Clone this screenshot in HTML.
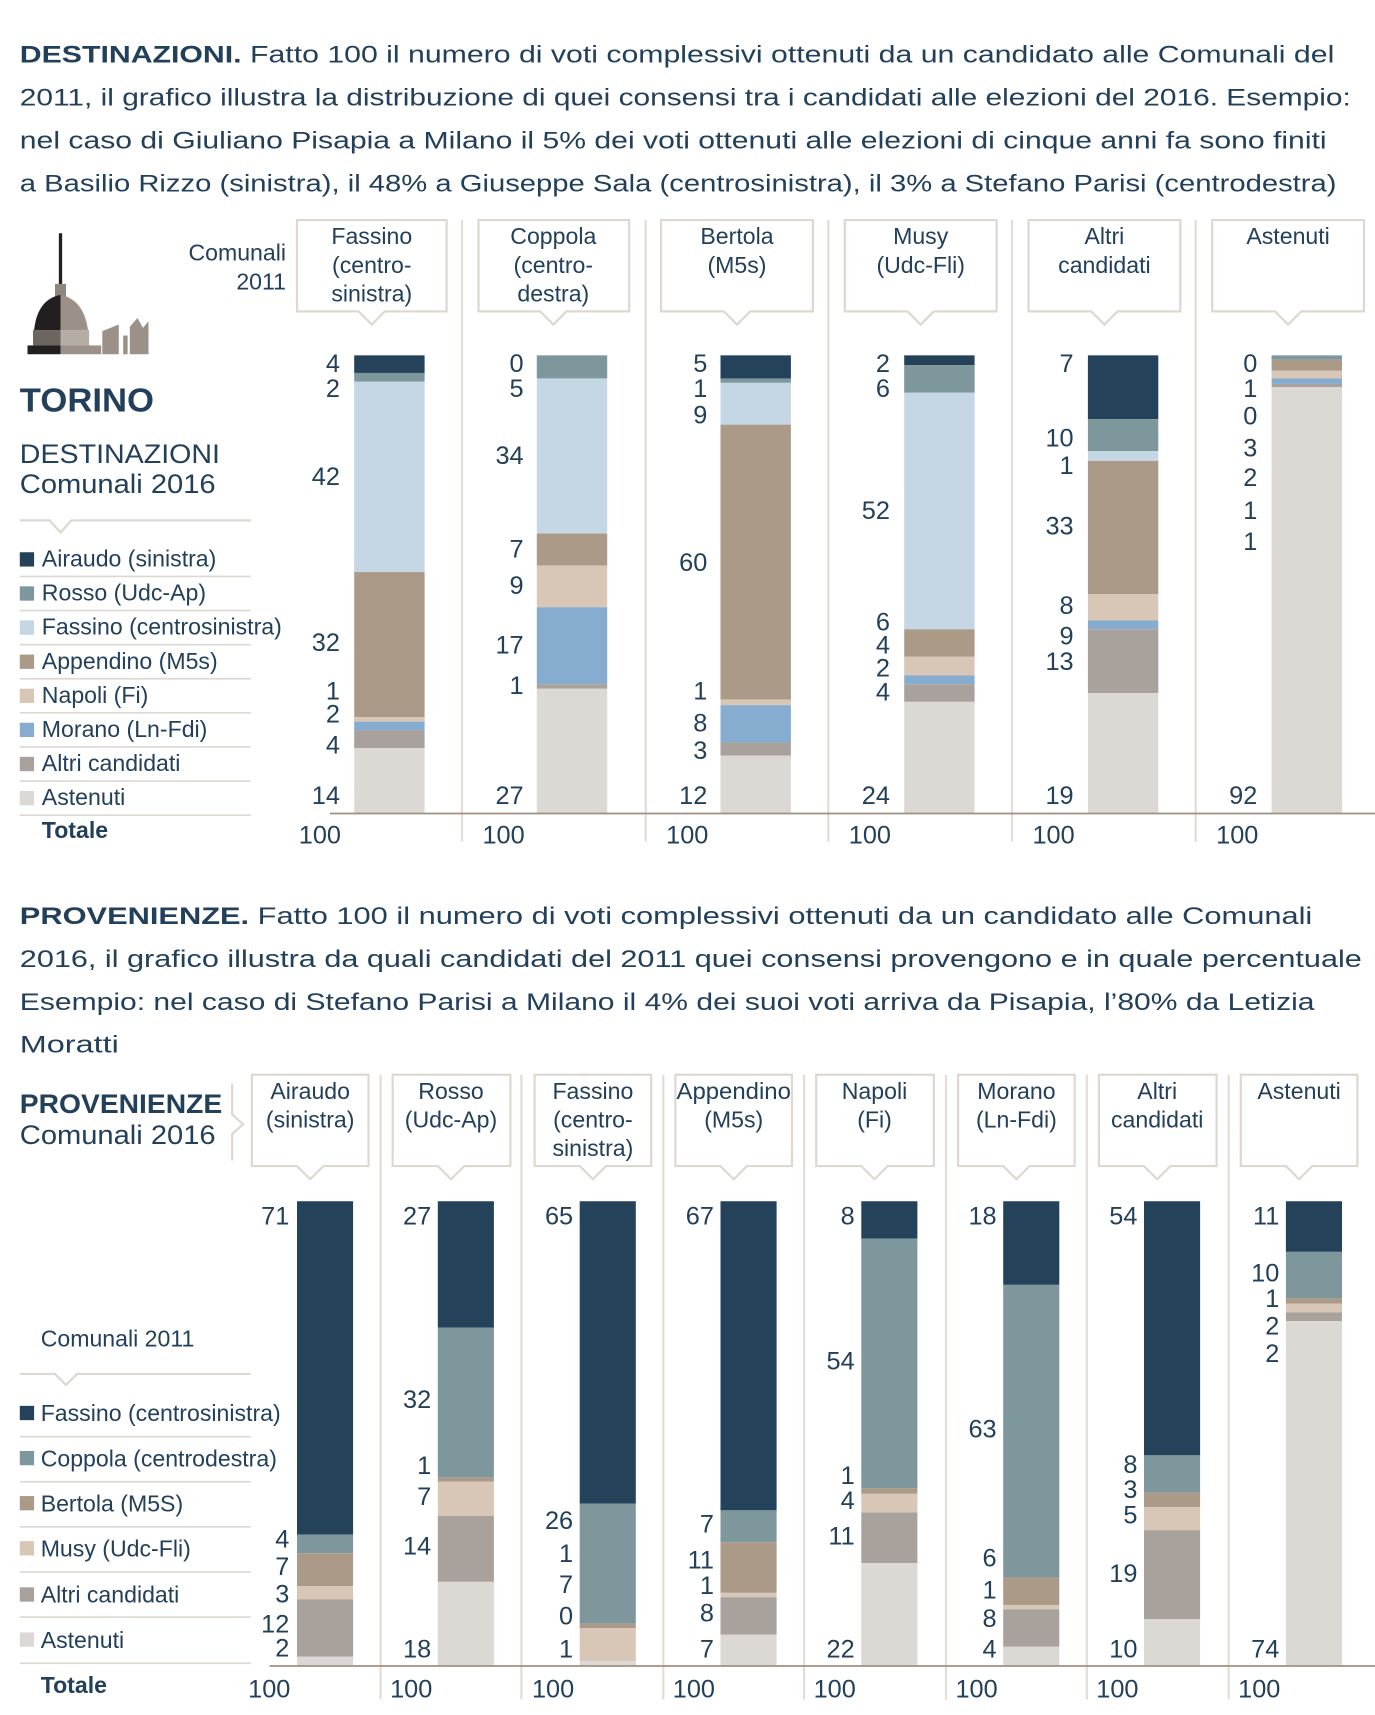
<!DOCTYPE html>
<html><head><meta charset="utf-8"><style>
html,body{margin:0;padding:0;background:#fff;}
svg{display:block;}
text{font-family:"Liberation Sans",sans-serif;fill:#23405a;}
.p{font-size:22px;}
.h{font-size:21px;text-anchor:middle;}
.v{font-size:23px;text-anchor:end;}
.l{font-size:21px;}
.bx{fill:#fff;stroke:#ddd8d0;stroke-width:2;}
.sep{stroke:#e2ddd7;stroke-width:2;}
</style></head><body>
<svg width="1375" height="1715" viewBox="0 0 1250 1559" xmlns="http://www.w3.org/2000/svg">
<text class="p" x="18" y="57" textLength="1195" lengthAdjust="spacingAndGlyphs"><tspan font-weight="bold">DESTINAZIONI.</tspan> Fatto 100 il numero di voti complessivi ottenuti da un candidato alle Comunali del</text>
<text class="p" x="18" y="96" textLength="1210" lengthAdjust="spacingAndGlyphs">2011, il grafico illustra la distribuzione di quei consensi tra i candidati alle elezioni del 2016. Esempio:</text>
<text class="p" x="18" y="135" textLength="1188" lengthAdjust="spacingAndGlyphs">nel caso di Giuliano Pisapia a Milano il 5% dei voti ottenuti alle elezioni di cinque anni fa sono finiti</text>
<text class="p" x="18" y="174" textLength="1197" lengthAdjust="spacingAndGlyphs">a Basilio Rizzo (sinistra), il 48% a Giuseppe Sala (centrosinistra), il 3% a Stefano Parisi (centrodestra)</text>

<g>
<rect x="53.5" y="212" width="3" height="50" fill="#231f20"/>
<rect x="50" y="258" width="10" height="12" fill="#8f877f"/>
<path d="M31 300 Q34 272 55 268 L55 300 Z" fill="#231f20"/>
<path d="M55 268 Q76 272 80 300 L55 300 Z" fill="#9b9189"/>
<rect x="30" y="300" width="25" height="14" fill="#6d655f"/>
<rect x="55" y="300" width="26" height="14" fill="#b5aca4"/>
<rect x="25" y="314" width="30" height="8" fill="#231f20"/>
<rect x="55" y="314" width="37" height="8" fill="#9b9189"/>
<path d="M93 322 V301 L108 295 V322 Z" fill="#9b9189"/>
<rect x="112" y="305" width="4" height="17" fill="#9b9189"/>
<path d="M118 322 V297 L125 289 L130 298 L135 292 V322 Z" fill="#9b9189"/>
</g>

<text x="260" y="237" font-size="21" text-anchor="end">Comunali</text>
<text x="260" y="263" font-size="21" text-anchor="end">2011</text>
<text x="18" y="374" font-size="30" font-weight="bold" textLength="122" lengthAdjust="spacingAndGlyphs">TORINO</text>
<text x="18" y="421" font-size="24" textLength="182" lengthAdjust="spacingAndGlyphs">DESTINAZIONI</text>
<text x="18" y="448" font-size="24" textLength="178" lengthAdjust="spacingAndGlyphs">Comunali 2016</text>
<path d="M18 473 H45 L55 484 L65 473 H228" fill="none" stroke="#ddd8d0" stroke-width="2"/>

<g class="l">
<rect x="18" y="502" width="13" height="13" fill="#24425a"/><text x="38" y="515">Airaudo (sinistra)</text>
<rect x="18" y="533" width="13" height="13" fill="#7d979c"/><text x="38" y="546">Rosso (Udc-Ap)</text>
<rect x="18" y="564" width="13" height="13" fill="#c5d6e4"/><text x="38" y="577">Fassino (centrosinistra)</text>
<rect x="18" y="595" width="13" height="13" fill="#ab9a88"/><text x="38" y="608">Appendino (M5s)</text>
<rect x="18" y="626" width="13" height="13" fill="#d8c6b6"/><text x="38" y="639">Napoli (Fi)</text>
<rect x="18" y="657" width="13" height="13" fill="#86adcf"/><text x="38" y="670">Morano (Ln-Fdi)</text>
<rect x="18" y="688" width="13" height="13" fill="#a9a29c"/><text x="38" y="701">Altri candidati</text>
<rect x="18" y="719" width="13" height="13" fill="#dcd8d3"/><text x="38" y="732">Astenuti</text>
<text x="38" y="762" font-weight="bold">Totale</text>
</g>
<g stroke="#ddd8d0" stroke-width="1.5">
<line x1="18" y1="524" x2="228" y2="524"/><line x1="18" y1="555" x2="228" y2="555"/><line x1="18" y1="586" x2="228" y2="586"/><line x1="18" y1="617" x2="228" y2="617"/><line x1="18" y1="648" x2="228" y2="648"/><line x1="18" y1="679" x2="228" y2="679"/><line x1="18" y1="710" x2="228" y2="710"/><line x1="18" y1="741" x2="228" y2="741"/>
</g>

<g class="sep">
<line x1="420" y1="200" x2="420" y2="765"/><line x1="587" y1="200" x2="587" y2="765"/><line x1="753" y1="200" x2="753" y2="765"/><line x1="920" y1="200" x2="920" y2="765"/><line x1="1087" y1="200" x2="1087" y2="765"/>
</g>

<path class="bx" d="M270 200 H406 V283 H350 L338 295 L326 283 H270 Z"/>
<text class="h" x="338" y="222">Fassino</text><text class="h" x="338" y="248">(centro-</text><text class="h" x="338" y="274">sinistra)</text>
<path class="bx" d="M435 200 H572 V283 H515 L503 295 L491 283 H435 Z"/>
<text class="h" x="503" y="222">Coppola</text><text class="h" x="503" y="248">(centro-</text><text class="h" x="503" y="274">destra)</text>
<path class="bx" d="M601 200 H739 V283 H682 L670 295 L658 283 H601 Z"/>
<text class="h" x="670" y="222">Bertola</text><text class="h" x="670" y="248">(M5s)</text>
<path class="bx" d="M768 200 H906 V283 H849 L837 295 L825 283 H768 Z"/>
<text class="h" x="837" y="222">Musy</text><text class="h" x="837" y="248">(Udc-Fli)</text>
<path class="bx" d="M935 200 H1073 V283 H1016 L1004 295 L992 283 H935 Z"/>
<text class="h" x="1004" y="222">Altri</text><text class="h" x="1004" y="248">candidati</text>
<path class="bx" d="M1102 200 H1240 V283 H1183 L1171 295 L1159 283 H1102 Z"/>
<text class="h" x="1171" y="222">Astenuti</text>

<g>
<rect x="322" y="323" width="64" height="16" fill="#24425a"/><rect x="322" y="339" width="64" height="8" fill="#7d979c"/><rect x="322" y="347" width="64" height="173" fill="#c5d6e4"/><rect x="322" y="520" width="64" height="132" fill="#ab9a88"/><rect x="322" y="652" width="64" height="4" fill="#d8c6b6"/><rect x="322" y="656" width="64" height="8" fill="#86adcf"/><rect x="322" y="664" width="64" height="16" fill="#a9a29c"/><rect x="322" y="680" width="64" height="59" fill="#dcd8d3"/>
<rect x="488" y="323" width="64" height="21" fill="#7d979c"/><rect x="488" y="344" width="64" height="141" fill="#c5d6e4"/><rect x="488" y="485" width="64" height="29" fill="#ab9a88"/><rect x="488" y="514" width="64" height="38" fill="#d8c6b6"/><rect x="488" y="552" width="64" height="70" fill="#86adcf"/><rect x="488" y="622" width="64" height="4" fill="#a9a29c"/><rect x="488" y="626" width="64" height="113" fill="#dcd8d3"/>
<rect x="655" y="323" width="64" height="21" fill="#24425a"/><rect x="655" y="344" width="64" height="4" fill="#7d979c"/><rect x="655" y="348" width="64" height="38" fill="#c5d6e4"/><rect x="655" y="386" width="64" height="250" fill="#ab9a88"/><rect x="655" y="636" width="64" height="5" fill="#d8c6b6"/><rect x="655" y="641" width="64" height="34" fill="#86adcf"/><rect x="655" y="675" width="64" height="12" fill="#a9a29c"/><rect x="655" y="687" width="64" height="52" fill="#dcd8d3"/>
<rect x="822" y="323" width="64" height="9" fill="#24425a"/><rect x="822" y="332" width="64" height="25" fill="#7d979c"/><rect x="822" y="357" width="64" height="215" fill="#c5d6e4"/><rect x="822" y="572" width="64" height="25" fill="#ab9a88"/><rect x="822" y="597" width="64" height="17" fill="#d8c6b6"/><rect x="822" y="614" width="64" height="8" fill="#86adcf"/><rect x="822" y="622" width="64" height="16" fill="#a9a29c"/><rect x="822" y="638" width="64" height="101" fill="#dcd8d3"/>
<rect x="989" y="323" width="64" height="58" fill="#24425a"/><rect x="989" y="381" width="64" height="29" fill="#7d979c"/><rect x="989" y="410" width="64" height="9" fill="#c5d6e4"/><rect x="989" y="419" width="64" height="121" fill="#ab9a88"/><rect x="989" y="540" width="64" height="24" fill="#d8c6b6"/><rect x="989" y="564" width="64" height="8" fill="#86adcf"/><rect x="989" y="572" width="64" height="58" fill="#a9a29c"/><rect x="989" y="630" width="64" height="109" fill="#dcd8d3"/>
<rect x="1156" y="323" width="64" height="4" fill="#7d979c"/><rect x="1156" y="327" width="64" height="10" fill="#ab9a88"/><rect x="1156" y="337" width="64" height="7" fill="#d8c6b6"/><rect x="1156" y="344" width="64" height="5" fill="#86adcf"/><rect x="1156" y="349" width="64" height="3" fill="#a9a29c"/><rect x="1156" y="352" width="64" height="387" fill="#dcd8d3"/>
</g>
<line x1="300" y1="739.5" x2="1250" y2="739.5" stroke="#a08f80" stroke-width="1.5"/>

<g class="v">
<text x="309" y="338">4</text><text x="309" y="361">2</text><text x="309" y="441">42</text><text x="309" y="592">32</text><text x="309" y="636">1</text><text x="309" y="657">2</text><text x="309" y="685">4</text><text x="309" y="731">14</text><text x="310" y="767">100</text>
<text x="476" y="338">0</text><text x="476" y="361">5</text><text x="476" y="422">34</text><text x="476" y="507">7</text><text x="476" y="540">9</text><text x="476" y="594">17</text><text x="476" y="631">1</text><text x="476" y="731">27</text><text x="477" y="767">100</text>
<text x="643" y="338">5</text><text x="643" y="361">1</text><text x="643" y="385">9</text><text x="643" y="519">60</text><text x="643" y="636">1</text><text x="643" y="665">8</text><text x="643" y="690">3</text><text x="643" y="731">12</text><text x="644" y="767">100</text>
<text x="809" y="338">2</text><text x="809" y="361">6</text><text x="809" y="472">52</text><text x="809" y="573">6</text><text x="809" y="594">4</text><text x="809" y="615">2</text><text x="809" y="637">4</text><text x="809" y="731">24</text><text x="810" y="767">100</text>
<text x="976" y="338">7</text><text x="976" y="406">10</text><text x="976" y="431">1</text><text x="976" y="486">33</text><text x="976" y="558">8</text><text x="976" y="586">9</text><text x="976" y="609">13</text><text x="976" y="731">19</text><text x="977" y="767">100</text>
<text x="1143" y="338">0</text><text x="1143" y="361">1</text><text x="1143" y="386">0</text><text x="1143" y="415">3</text><text x="1143" y="442">2</text><text x="1143" y="472">1</text><text x="1143" y="500">1</text><text x="1143" y="731">92</text><text x="1144" y="767">100</text>
</g>

<text class="p" x="18" y="840" textLength="1175" lengthAdjust="spacingAndGlyphs"><tspan font-weight="bold">PROVENIENZE.</tspan> Fatto 100 il numero di voti complessivi ottenuti da un candidato alle Comunali</text>
<text class="p" x="18" y="879" textLength="1220" lengthAdjust="spacingAndGlyphs">2016, il grafico illustra da quali candidati del 2011 quei consensi provengono e in quale percentuale</text>
<text class="p" x="18" y="918" textLength="1177" lengthAdjust="spacingAndGlyphs">Esempio: nel caso di Stefano Parisi a Milano il 4% dei suoi voti arriva da Pisapia, l’80% da Letizia</text>
<text class="p" x="18" y="957" textLength="90" lengthAdjust="spacingAndGlyphs">Moratti</text>

<text x="18" y="1012" font-size="24" font-weight="bold" textLength="184" lengthAdjust="spacingAndGlyphs">PROVENIENZE</text>
<text x="18" y="1040" font-size="24" textLength="178" lengthAdjust="spacingAndGlyphs">Comunali 2016</text>
<path d="M211 985 V1013 L221 1022 L211 1031 V1055" fill="none" stroke="#ddd8d0" stroke-width="2"/>
<text x="37" y="1224" font-size="21">Comunali 2011</text>
<path d="M18 1249 H50 L60 1259 L70 1249 H228" fill="none" stroke="#ddd8d0" stroke-width="2"/>

<g class="l">
<rect x="18" y="1278" width="13" height="13" fill="#24425a"/><text x="37" y="1292">Fassino (centrosinistra)</text>
<rect x="18" y="1319" width="13" height="13" fill="#7d979c"/><text x="37" y="1333">Coppola (centrodestra)</text>
<rect x="18" y="1360" width="13" height="13" fill="#ab9a88"/><text x="37" y="1374">Bertola (M5S)</text>
<rect x="18" y="1401" width="13" height="13" fill="#d8c6b6"/><text x="37" y="1415">Musy (Udc-Fli)</text>
<rect x="18" y="1443" width="13" height="13" fill="#a9a29c"/><text x="37" y="1457">Altri candidati</text>
<rect x="18" y="1484" width="13" height="13" fill="#dcd8d3"/><text x="37" y="1498">Astenuti</text>
<text x="37" y="1539" font-weight="bold">Totale</text>
</g>
<g stroke="#ddd8d0" stroke-width="1.5">
<line x1="18" y1="1306" x2="228" y2="1306"/><line x1="18" y1="1347" x2="228" y2="1347"/><line x1="18" y1="1388" x2="228" y2="1388"/><line x1="18" y1="1429" x2="228" y2="1429"/><line x1="18" y1="1470" x2="228" y2="1470"/><line x1="18" y1="1512" x2="228" y2="1512"/>
</g>

<g class="sep">
<line x1="346" y1="977" x2="346" y2="1545"/><line x1="474" y1="977" x2="474" y2="1545"/><line x1="603" y1="977" x2="603" y2="1545"/><line x1="731" y1="977" x2="731" y2="1545"/><line x1="860" y1="977" x2="860" y2="1545"/><line x1="988" y1="977" x2="988" y2="1545"/><line x1="1117" y1="977" x2="1117" y2="1545"/>
</g>

<path class="bx" d="M229 977 H335 V1060 H294 L282 1072 L270 1060 H229 Z"/>
<text class="h" x="282" y="999">Airaudo</text><text class="h" x="282" y="1025">(sinistra)</text>
<path class="bx" d="M357 977 H464 V1060 H422 L410 1072 L398 1060 H357 Z"/>
<text class="h" x="410" y="999">Rosso</text><text class="h" x="410" y="1025">(Udc-Ap)</text>
<path class="bx" d="M486 977 H592 V1060 H551 L539 1072 L527 1060 H486 Z"/>
<text class="h" x="539" y="999">Fassino</text><text class="h" x="539" y="1025">(centro-</text><text class="h" x="539" y="1051">sinistra)</text>
<path class="bx" d="M614 977 H720 V1060 H679 L667 1072 L655 1060 H614 Z"/>
<text class="h" x="667" y="999" textLength="104" lengthAdjust="spacingAndGlyphs">Appendino</text><text class="h" x="667" y="1025">(M5s)</text>
<path class="bx" d="M742 977 H849 V1060 H807 L795 1072 L783 1060 H742 Z"/>
<text class="h" x="795" y="999">Napoli</text><text class="h" x="795" y="1025">(Fi)</text>
<path class="bx" d="M871 977 H977 V1060 H936 L924 1072 L912 1060 H871 Z"/>
<text class="h" x="924" y="999">Morano</text><text class="h" x="924" y="1025">(Ln-Fdi)</text>
<path class="bx" d="M999 977 H1106 V1060 H1064 L1052 1072 L1040 1060 H999 Z"/>
<text class="h" x="1052" y="999">Altri</text><text class="h" x="1052" y="1025">candidati</text>
<path class="bx" d="M1128 977 H1234 V1060 H1193 L1181 1072 L1169 1060 H1128 Z"/>
<text class="h" x="1181" y="999">Astenuti</text>

<g>
<rect x="270" y="1092" width="51" height="303" fill="#24425a"/><rect x="270" y="1395" width="51" height="17" fill="#7d979c"/><rect x="270" y="1412" width="51" height="30" fill="#ab9a88"/><rect x="270" y="1442" width="51" height="12" fill="#d8c6b6"/><rect x="270" y="1454" width="51" height="52" fill="#a9a29c"/><rect x="270" y="1506" width="51" height="8" fill="#dcd8d3"/>
<rect x="398" y="1092" width="51" height="115" fill="#24425a"/><rect x="398" y="1207" width="51" height="136" fill="#7d979c"/><rect x="398" y="1343" width="51" height="4" fill="#ab9a88"/><rect x="398" y="1347" width="51" height="31" fill="#d8c6b6"/><rect x="398" y="1378" width="51" height="60" fill="#a9a29c"/><rect x="398" y="1438" width="51" height="76" fill="#dcd8d3"/>
<rect x="527" y="1092" width="51" height="275" fill="#24425a"/><rect x="527" y="1367" width="51" height="109" fill="#7d979c"/><rect x="527" y="1476" width="51" height="4" fill="#ab9a88"/><rect x="527" y="1480" width="51" height="30" fill="#d8c6b6"/><rect x="527" y="1510" width="51" height="4" fill="#dcd8d3"/>
<rect x="655" y="1092" width="51" height="281" fill="#24425a"/><rect x="655" y="1373" width="51" height="29" fill="#7d979c"/><rect x="655" y="1402" width="51" height="46" fill="#ab9a88"/><rect x="655" y="1448" width="51" height="4" fill="#d8c6b6"/><rect x="655" y="1452" width="51" height="34" fill="#a9a29c"/><rect x="655" y="1486" width="51" height="28" fill="#dcd8d3"/>
<rect x="783" y="1092" width="51" height="34" fill="#24425a"/><rect x="783" y="1126" width="51" height="227" fill="#7d979c"/><rect x="783" y="1353" width="51" height="5" fill="#ab9a88"/><rect x="783" y="1358" width="51" height="17" fill="#d8c6b6"/><rect x="783" y="1375" width="51" height="46" fill="#a9a29c"/><rect x="783" y="1421" width="51" height="93" fill="#dcd8d3"/>
<rect x="912" y="1092" width="51" height="76" fill="#24425a"/><rect x="912" y="1168" width="51" height="266" fill="#7d979c"/><rect x="912" y="1434" width="51" height="25" fill="#ab9a88"/><rect x="912" y="1459" width="51" height="4" fill="#d8c6b6"/><rect x="912" y="1463" width="51" height="34" fill="#a9a29c"/><rect x="912" y="1497" width="51" height="17" fill="#dcd8d3"/>
<rect x="1040" y="1092" width="51" height="231" fill="#24425a"/><rect x="1040" y="1323" width="51" height="34" fill="#7d979c"/><rect x="1040" y="1357" width="51" height="13" fill="#ab9a88"/><rect x="1040" y="1370" width="51" height="21" fill="#d8c6b6"/><rect x="1040" y="1391" width="51" height="81" fill="#a9a29c"/><rect x="1040" y="1472" width="51" height="42" fill="#dcd8d3"/>
<rect x="1169" y="1092" width="51" height="46" fill="#24425a"/><rect x="1169" y="1138" width="51" height="42" fill="#7d979c"/><rect x="1169" y="1180" width="51" height="5" fill="#ab9a88"/><rect x="1169" y="1185" width="51" height="8" fill="#d8c6b6"/><rect x="1169" y="1193" width="51" height="8" fill="#a9a29c"/><rect x="1169" y="1201" width="51" height="313" fill="#dcd8d3"/>
</g>
<line x1="245" y1="1514.5" x2="1250" y2="1514.5" stroke="#a08f80" stroke-width="1.5"/>

<g class="v">
<text x="263" y="1113">71</text><text x="263" y="1407">4</text><text x="263" y="1432">7</text><text x="263" y="1457">3</text><text x="263" y="1484">12</text><text x="263" y="1506">2</text><text x="264" y="1543">100</text>
<text x="392" y="1113">27</text><text x="392" y="1280">32</text><text x="392" y="1340">1</text><text x="392" y="1368">7</text><text x="392" y="1413">14</text><text x="392" y="1507">18</text><text x="393" y="1543">100</text>
<text x="521" y="1113">65</text><text x="521" y="1390">26</text><text x="521" y="1420">1</text><text x="521" y="1448">7</text><text x="521" y="1477">0</text><text x="521" y="1507">1</text><text x="522" y="1543">100</text>
<text x="649" y="1113">67</text><text x="649" y="1393">7</text><text x="649" y="1426">11</text><text x="649" y="1449">1</text><text x="649" y="1474">8</text><text x="649" y="1507">7</text><text x="650" y="1543">100</text>
<text x="777" y="1113">8</text><text x="777" y="1245">54</text><text x="777" y="1349">1</text><text x="777" y="1372">4</text><text x="777" y="1404">11</text><text x="777" y="1507">22</text><text x="778" y="1543">100</text>
<text x="906" y="1113">18</text><text x="906" y="1307">63</text><text x="906" y="1424">6</text><text x="906" y="1453">1</text><text x="906" y="1479">8</text><text x="906" y="1507">4</text><text x="907" y="1543">100</text>
<text x="1034" y="1113">54</text><text x="1034" y="1339">8</text><text x="1034" y="1362">3</text><text x="1034" y="1385">5</text><text x="1034" y="1438">19</text><text x="1034" y="1507">10</text><text x="1035" y="1543">100</text>
<text x="1163" y="1113">11</text><text x="1163" y="1165">10</text><text x="1163" y="1188">1</text><text x="1163" y="1213">2</text><text x="1163" y="1238">2</text><text x="1163" y="1507">74</text><text x="1164" y="1543">100</text>
</g>
</svg>
</body></html>
